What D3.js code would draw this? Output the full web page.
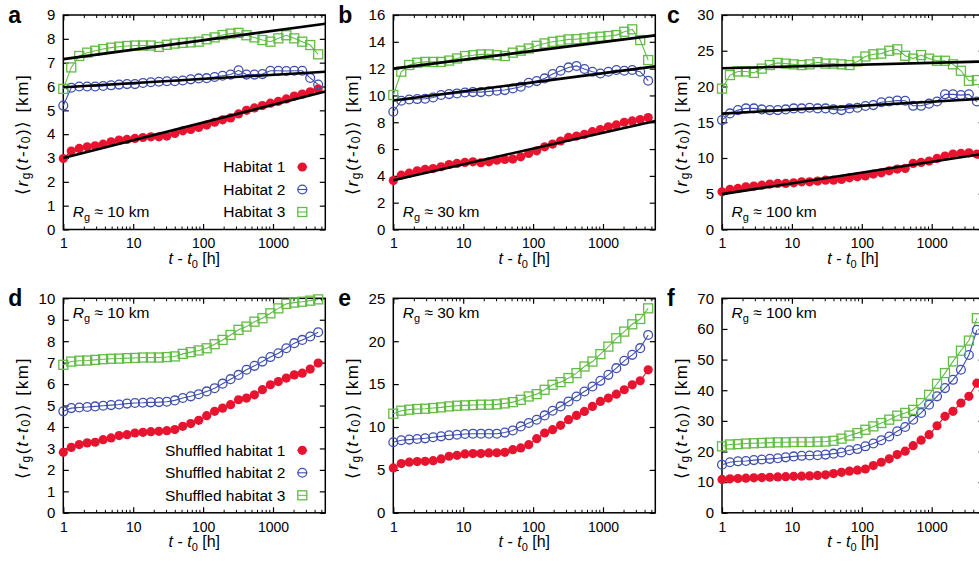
<!DOCTYPE html>
<html>
<head>
<meta charset="utf-8">
<script src="https://cdn.jsdelivr.net/npm/d3@7"></script>
<style>
  body { margin: 0; background: #fff; }
  svg { display: block; font-family: "Liberation Sans", Arial, sans-serif; overflow: hidden; }
</style>
</head>
<body>
<script>
// time lags (hours), same bins in every panel
const hours = [1, 1.3, 1.69, 2.197, 2.856, 3.713, 4.827, 6.275, 8.157, 10.6, 13.79, 17.92, 23.3, 30.29,
  39.37, 51.19, 66.54, 86.5, 112.5, 146.2, 190, 247.1, 321.2, 417.5, 542.8, 705.6, 917.3, 1192.5,
  1550, 2015, 2620, 3406, 4428];

// top row: habitats
const habA1 = [2.98, 3.29, 3.4, 3.47, 3.51, 3.58, 3.68, 3.75, 3.78, 3.82, 3.86, 3.89, 3.89, 3.92, 4.03, 4.14, 4.2,
  4.28, 4.38, 4.5, 4.6, 4.68, 4.85, 5.0, 5.1, 5.2, 5.3, 5.38, 5.48, 5.6, 5.68, 5.78, 5.9];
const habA2 = [5.2, 5.95, 6.0, 6.0, 6.0, 6.02, 6.05, 6.08, 6.1, 6.1, 6.15, 6.18, 6.2, 6.22, 6.22, 6.25, 6.3,
  6.34, 6.35, 6.4, 6.45, 6.5, 6.68, 6.5, 6.5, 6.52, 6.66, 6.66, 6.65, 6.66, 6.66, 6.36, 6.08];
const habA3 = [5.9, 6.8, 7.28, 7.42, 7.5, 7.57, 7.63, 7.67, 7.7, 7.72, 7.72, 7.72, 7.66, 7.75, 7.8, 7.83, 7.85,
  7.88, 7.98, 8.06, 8.16, 8.22, 8.25, 8.15, 8.06, 7.95, 7.88, 8.02, 8.15, 8.02, 7.88, 7.74, 7.35];

const habB1 = [3.65, 4.05, 4.2, 4.38, 4.48, 4.55, 4.68, 4.85, 4.93, 5.0, 5.05, 4.98, 5.05, 5.17, 5.22, 5.25, 5.42,
  5.67, 5.87, 6.17, 6.37, 6.6, 6.87, 6.97, 7.1, 7.3, 7.46, 7.66, 7.8, 8.0, 8.1, 8.2, 8.35];
const habB2 = [8.78, 9.6, 9.7, 9.73, 9.75, 9.85, 10.03, 10.1, 10.15, 10.22, 10.25, 10.25, 10.3, 10.35, 10.4, 10.52,
  10.65, 10.95, 11.07, 11.27, 11.6, 11.84, 12.09, 12.2, 11.97, 11.77, 11.64, 11.77, 11.9, 11.84, 11.9, 11.77, 11.1];
const habB3 = [10.03, 11.77, 12.27, 12.44, 12.5, 12.5, 12.5, 12.6, 12.76, 12.94, 13.0, 13.06, 13.06, 13.0, 12.94,
  13.19, 13.34, 13.5, 13.7, 13.88, 14.0, 14.08, 14.18, 14.2, 14.26, 14.33, 14.38, 14.43, 14.5, 14.75, 14.93, 14.13, 12.64];

const habC1 = [5.27, 5.6, 5.74, 5.97, 6.07, 6.2, 6.35, 6.44, 6.44, 6.53, 6.67, 6.67, 6.77, 6.9, 6.9, 7.0, 7.23,
  7.37, 7.5, 7.75, 7.93, 8.2, 8.45, 8.54, 9.24, 9.38, 9.57, 9.94, 10.27, 10.55, 10.64, 10.73, 10.55];
const habC2 = [15.3, 16.24, 16.7, 16.94, 16.94, 16.8, 16.7, 16.7, 16.8, 16.94, 16.94, 17.03, 16.94, 16.94, 16.8,
  16.7, 16.94, 17.03, 17.27, 17.4, 17.8, 17.9, 18.05, 18.0, 17.3, 17.3, 17.6, 17.9, 18.9, 18.9, 18.8, 18.9, 17.9];
const habC3 = [19.7, 21.6, 22.1, 22.1, 21.9, 22.5, 23.0, 23.3, 23.2, 23.1, 23.0, 23.1, 23.4, 23.2, 23.2, 23.1, 23.0,
  23.5, 24.2, 24.5, 24.6, 25.0, 25.2, 24.3, 23.9, 24.4, 23.9, 23.6, 23.6, 23.1, 22.2, 20.8, 20.9];

// fitted lines, values at t = 1 and t = 5600
const fitHours = [1, 5600];
const fitA1 = [3.0, 5.79], fitA2 = [5.97, 6.62], fitA3 = [7.15, 8.63];
const fitB1 = [3.68, 8.1], fitB2 = [9.62, 12.17], fitB3 = [12.0, 14.48];
const fitC1 = [4.95, 10.6], fitC2 = [16.2, 18.3], fitC3 = [22.55, 23.5];

// bottom row: shuffled habitats
const shufD1 = [2.82, 3.05, 3.18, 3.26, 3.29, 3.41, 3.49, 3.6, 3.64, 3.72, 3.75, 3.78, 3.8, 3.83, 3.88, 4.03, 4.16,
  4.31, 4.53, 4.73, 4.88, 5.04, 5.27, 5.35, 5.5, 5.74, 5.97, 6.12, 6.28, 6.43, 6.51, 6.7, 6.98];
const shufD2 = [4.73, 4.88, 4.91, 4.93, 4.96, 4.99, 5.02, 5.05, 5.09, 5.12, 5.13, 5.15, 5.16, 5.18, 5.24, 5.35, 5.43,
  5.53, 5.66, 5.81, 6.02, 6.23, 6.43, 6.67, 6.85, 7.05, 7.26, 7.44, 7.67, 7.91, 8.06, 8.22, 8.42];
const shufD3 = [6.9, 7.05, 7.09, 7.1, 7.13, 7.16, 7.18, 7.19, 7.21, 7.22, 7.24, 7.24, 7.24, 7.26, 7.29, 7.41, 7.49,
  7.57, 7.67, 7.86, 8.06, 8.29, 8.53, 8.68, 8.91, 9.07, 9.3, 9.53, 9.74, 9.8, 9.84, 9.89, 9.95];

const shufE1 = [5.23, 5.74, 5.9, 5.97, 6.0, 6.08, 6.28, 6.59, 6.7, 6.86, 6.9, 6.9, 6.98, 7.0, 7.05, 7.36, 7.56,
  7.94, 8.64, 9.3, 9.69, 10.19, 10.85, 11.35, 11.82, 12.4, 12.98, 13.37, 13.83, 14.34, 14.92, 15.38, 16.66];
const shufE2 = [8.22, 8.45, 8.53, 8.6, 8.68, 8.8, 8.91, 9.03, 9.1, 9.19, 9.22, 9.22, 9.22, 9.22, 9.35, 9.6, 10.07,
  10.46, 10.85, 11.35, 11.9, 12.4, 12.98, 13.56, 14.14, 14.72, 15.38, 16.08, 16.86, 17.71, 18.41, 19.19, 20.73];
const shufE3 = [11.55, 11.9, 12.02, 12.1, 12.13, 12.21, 12.29, 12.4, 12.48, 12.52, 12.56, 12.6, 12.6, 12.64, 12.75,
  12.9, 13.17, 13.56, 13.83, 14.34, 14.92, 15.23, 15.7, 16.28, 17.05, 17.63, 18.49, 19.37, 20.34, 21.12, 21.97, 22.59, 23.83];

const shufF1 = [10.9, 11.1, 11.2, 11.3, 11.4, 11.5, 11.6, 11.7, 11.8, 11.9, 11.95, 12.05, 12.2, 12.4, 12.8, 13.2,
  13.6, 13.9, 14.3, 15.4, 16.5, 17.6, 19.0, 20.1, 21.9, 23.7, 25.5, 28.4, 31.5, 33.1, 35.8, 38.0, 42.3];
const shufF2 = [15.7, 16.5, 16.8, 16.9, 17.2, 17.4, 17.6, 17.8, 18.1, 18.4, 18.6, 18.7, 18.8, 19.0, 19.3, 19.7,
  20.4, 20.8, 21.7, 22.6, 23.7, 24.9, 26.6, 28.0, 30.4, 32.6, 35.3, 38.0, 40.7, 43.4, 46.7, 51.5, 59.7];
const shufF3 = [21.7, 22.3, 22.4, 22.6, 22.7, 22.8, 22.9, 23.0, 23.0, 23.1, 23.1, 23.1, 23.2, 23.25, 23.5, 24.2,
  25.2, 26.0, 27.1, 28.2, 29.3, 30.4, 31.7, 32.6, 33.6, 35.8, 38.5, 42.1, 45.6, 49.4, 52.9, 56.2, 63.5];

// axis ticks
const xMajor = [1, 10, 100, 1000];
const ticksA = [0, 1, 2, 3, 4, 5, 6, 7, 8, 9];
const ticksB = [0, 2, 4, 6, 8, 10, 12, 14, 16];
const ticksC = [0, 5, 10, 15, 20, 25, 30];
const ticksD = [0, 1, 2, 3, 4, 5, 6, 7, 8, 9, 10];
const ticksE = [0, 5, 10, 15, 20, 25];
const ticksF = [0, 10, 20, 30, 40, 50, 60, 70];

const habLabels = ['Habitat 1', 'Habitat 2', 'Habitat 3'];
const shufLabels = ['Shuffled habitat 1', 'Shuffled habitat 2', 'Shuffled habitat 3'];

const colors = ['#e8142f', '#3f4fb0', '#62bc45'];
const shapes = ['dot', 'circle', 'square'];

const panels = [
  { letter: 'a', col: 0, row: 0, ticks: ticksA, series: [habA1, habA2, habA3], fits: [fitA1, fitA2, fitA3], rg: '10', legend: habLabels },
  { letter: 'b', col: 1, row: 0, ticks: ticksB, series: [habB1, habB2, habB3], fits: [fitB1, fitB2, fitB3], rg: '30' },
  { letter: 'c', col: 2, row: 0, ticks: ticksC, series: [habC1, habC2, habC3], fits: [fitC1, fitC2, fitC3], rg: '100' },
  { letter: 'd', col: 0, row: 1, ticks: ticksD, series: [shufD1, shufD2, shufD3], rg: '10', legend: shufLabels },
  { letter: 'e', col: 1, row: 1, ticks: ticksE, series: [shufE1, shufE2, shufE3], rg: '30' },
  { letter: 'f', col: 2, row: 1, ticks: ticksF, series: [shufF1, shufF2, shufF3], rg: '100' }
];

// layout
const W = 979, H = 561;
const colLeft = [63.3, 393.3, 722];
const rowTop = [15, 298.3];
const plotW = 262, plotH = 214.5;

const svg = d3.select('body').append('svg')
  .attr('width', W)
  .attr('height', H);

function drawMarker(g, shape, color, cx, cy) {
  if (shape === 'dot') {
    g.append('circle').attr('cx', cx).attr('cy', cy).attr('r', 4.6).attr('fill', color);
  } else if (shape === 'circle') {
    g.append('circle').attr('cx', cx).attr('cy', cy).attr('r', 4.4)
      .attr('fill', 'none').attr('stroke', color).attr('stroke-width', 1.3);
  } else {
    g.append('rect').attr('x', cx - 4.5).attr('y', cy - 4.5).attr('width', 9).attr('height', 9)
      .attr('fill', 'none').attr('stroke', color).attr('stroke-width', 1.3);
  }
}

panels.forEach(p => {
  const left = colLeft[p.col], top = rowTop[p.row];
  const yMax = p.ticks[p.ticks.length - 1];

  const x = d3.scaleLog().domain([1, 5600]).range([left, left + plotW]);
  const y = d3.scaleLinear().domain([0, yMax]).range([top + plotH, top]);

  const g = svg.append('g');

  // minor x ticks (bottom + top)
  const minor = x.ticks().filter(v => xMajor.indexOf(v) < 0);
  g.append('g').selectAll('line.mb').data(minor).enter().append('line')
    .attr('x1', d => x(d)).attr('x2', d => x(d))
    .attr('y1', top + plotH).attr('y2', top + plotH - 3)
    .attr('stroke', '#000').attr('stroke-width', 1);
  g.append('g').selectAll('line.mt').data(minor).enter().append('line')
    .attr('x1', d => x(d)).attr('x2', d => x(d))
    .attr('y1', top).attr('y2', top + 3)
    .attr('stroke', '#000').attr('stroke-width', 1);

  // axes with inward ticks
  const xb = g.append('g').attr('transform', `translate(0,${top + plotH})`)
    .call(d3.axisBottom(x).tickValues(xMajor).tickSize(-5.5).tickPadding(9).tickFormat(d3.format('d')));
  const xt = g.append('g').attr('transform', `translate(0,${top})`)
    .call(d3.axisTop(x).tickValues(xMajor).tickSize(-5.5).tickFormat(''));
  const yl = g.append('g').attr('transform', `translate(${left},0)`)
    .call(d3.axisLeft(y).tickValues(p.ticks).tickSize(-5.5).tickPadding(8));
  const yr = g.append('g').attr('transform', `translate(${left + plotW},0)`)
    .call(d3.axisRight(y).tickValues(p.ticks).tickSize(-5.5).tickFormat(''));

  [xb, xt, yl, yr].forEach(a => {
    a.select('.domain').remove();
    a.selectAll('line').attr('stroke', '#000').attr('stroke-width', 1.2);
    a.selectAll('text').attr('fill', '#000').attr('font-size', 14)
      .attr('font-family', '"Liberation Sans", Arial, sans-serif');
  });
  yl.selectAll('text').attr('font-size', 15);

  // frame
  g.append('rect').attr('x', left).attr('y', top).attr('width', plotW).attr('height', plotH)
    .attr('fill', 'none').attr('stroke', '#000').attr('stroke-width', 1.5);

  // data lines + markers
  const line = d3.line().x((d, i) => x(hours[i])).y(d => y(d));
  p.series.forEach((vals, s) => {
    g.append('path').datum(vals).attr('d', line)
      .attr('fill', 'none').attr('stroke', colors[s]).attr('stroke-width', 1.1);
  });
  p.series.forEach((vals, s) => {
    const mg = g.append('g');
    vals.forEach((v, i) => drawMarker(mg, shapes[s], colors[s], x(hours[i]), y(v)));
  });

  // fit lines
  if (p.fits) {
    const fl = d3.line().x((d, i) => x(fitHours[i])).y(d => y(d));
    p.fits.forEach(f => {
      g.append('path').datum(f).attr('d', fl)
        .attr('fill', 'none').attr('stroke', '#000').attr('stroke-width', 2.6);
    });
  }

  // panel letter
  g.append('text').attr('x', left - 55).attr('y', top + 8)
    .attr('font-size', 23).attr('font-weight', 'bold').text(p.letter);

  // y label
  const ylab = g.append('text')
    .attr('transform', `translate(${left - 41},${top + plotH / 2 + 13}) rotate(-90)`)
    .attr('text-anchor', 'middle').attr('dominant-baseline', 'central')
    .attr('font-size', 17)
    .attr('textLength', 120).attr('lengthAdjust', 'spacing');
  ylab.append('tspan').text('\u27E8');
  ylab.append('tspan').attr('font-style', 'italic').text('r');
  ylab.append('tspan').attr('font-size', 12).attr('dy', 4).text('g');
  ylab.append('tspan').attr('dy', -4).text('(');
  ylab.append('tspan').attr('font-style', 'italic').text('t');
  ylab.append('tspan').text('-');
  ylab.append('tspan').attr('font-style', 'italic').text('t');
  ylab.append('tspan').attr('font-size', 12).attr('dy', 4).text('0');
  ylab.append('tspan').attr('dy', -4).text(')\u27E9 [km]');

  // x label
  const xlab = g.append('text')
    .attr('x', left + plotW / 2).attr('y', top + plotH + 34)
    .attr('text-anchor', 'middle').attr('font-size', 16);
  xlab.append('tspan').attr('font-style', 'italic').text('t');
  xlab.append('tspan').text(' - ');
  xlab.append('tspan').attr('font-style', 'italic').text('t');
  xlab.append('tspan').attr('font-size', 11).attr('dy', 4).text('0');
  xlab.append('tspan').attr('dy', -4).text(' [h]');

  // R_g annotation
  const rgY = p.row === 0 ? top + plotH - 13 : top + 20;
  const rg = g.append('text').attr('x', left + 9.5).attr('y', rgY).attr('font-size', 15.5);
  rg.append('tspan').attr('font-style', 'italic').text('R');
  rg.append('tspan').attr('font-size', 11).attr('dy', 4).text('g');
  rg.append('tspan').attr('dy', -4).text(' \u2248 ' + p.rg + ' km');

  // legend
  if (p.legend) {
    p.legend.forEach((lab, s) => {
      const ly = top + 152 + s * 22.5;
      g.append('text').attr('x', left + 222).attr('y', ly).attr('dy', '0.35em')
        .attr('text-anchor', 'end').attr('font-size', 15.5).text(lab);
      g.append('line').attr('x1', left + 234).attr('x2', left + 244)
        .attr('y1', ly).attr('y2', ly).attr('stroke', colors[s]).attr('stroke-width', 1.1);
      drawMarker(g, shapes[s], colors[s], left + 239, ly);
    });
  }
});
</script>
</body>
</html>
